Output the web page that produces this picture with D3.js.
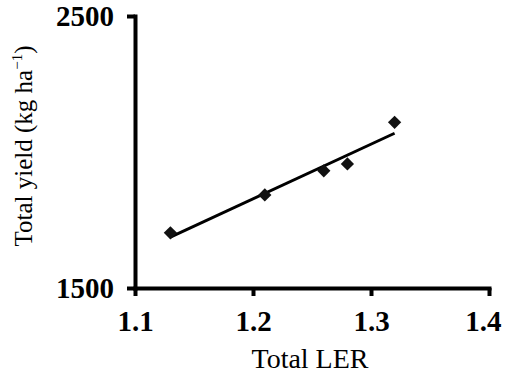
<!DOCTYPE html>
<html>
<head>
<meta charset="utf-8">
<script src="https://cdn.jsdelivr.net/npm/d3@7"></script>
<style>
  html, body { margin: 0; padding: 0; background: #fff; }
  svg { display: block; }
</style>
</head>
<body>
<svg id="chart" width="505" height="374"></svg>
<script>
// values
const ler = [1.13, 1.21, 1.26, 1.28, 1.32];
const yieldKg = [1703, 1842, 1931, 1956, 2109];
const xTicks = [1.1, 1.2, 1.3, 1.4];
const yTicks = [1500, 2500];

const W = 505, H = 374;
const svg = d3.select("#chart");
const FONT = "Liberation Serif, Times New Roman, serif";

const x = d3.scaleLinear().domain([1.1, 1.4]).range([135, 489]);
const y = d3.scaleLinear().domain([1500, 2500]).range([288, 16]);

// least squares fit for the trend line
const mx = d3.mean(ler), my = d3.mean(yieldKg);
let sxy = 0, sxx = 0;
ler.forEach((v, i) => { sxy += (v - mx) * (yieldKg[i] - my); sxx += (v - mx) * (v - mx); });
const slope = sxy / sxx, icpt = my - slope * mx;
const fitX = d3.extent(ler);

// axes
const xAxis = svg.append("g")
    .attr("transform", `translate(0,${y(1500)})`)
    .call(d3.axisBottom(x).tickValues(xTicks).tickFormat(d3.format(".1f")).tickSizeInner(8).tickSizeOuter(0).tickPadding(14));

const yAxis = svg.append("g")
    .attr("transform", `translate(${x(1.1)},0)`)
    .call(d3.axisLeft(y).tickValues(yTicks).tickFormat(d3.format("d")).tickSizeInner(8).tickSizeOuter(0).tickPadding(13));

[xAxis, yAxis].forEach(g => {
    g.select(".domain").attr("stroke", "#000").attr("stroke-width", 4).attr("stroke-linecap", "square");
    g.selectAll(".tick line").attr("stroke", "#000").attr("stroke-width", 4);
    g.selectAll(".tick text")
        .attr("fill", "#000")
        .style("font-family", FONT)
        .style("font-weight", "bold")
        .style("font-size", "29px");
});

// keep the last x label inside the picture
xAxis.selectAll(".tick text").each(function () {
    const b = this.getBBox();
    const tx = x(d3.select(this.parentNode).datum());
    const over = tx + b.x + b.width - (W - 4);
    if (over > 0) d3.select(this).attr("x", -over);
});

// trend line
svg.append("line")
    .attr("x1", x(fitX[0])).attr("y1", y(icpt + slope * fitX[0]))
    .attr("x2", x(fitX[1])).attr("y2", y(icpt + slope * fitX[1]))
    .attr("stroke", "#000").attr("stroke-width", 3);

// diamond markers
const diamond = d3.symbol().type(d3.symbolSquare).size(88);
svg.append("g").selectAll("path")
    .data(ler)
    .join("path")
    .attr("d", diamond)
    .attr("transform", (d, i) => `translate(${x(d)},${y(yieldKg[i])}) rotate(45)`)
    .attr("fill", "#111");

// axis titles
svg.append("text")
    .attr("x", (x(1.1) + x(1.4)) / 2 - 2)
    .attr("y", 368)
    .attr("text-anchor", "middle")
    .style("font-family", FONT)
    .style("font-size", "28px")
    .text("Total LER");

const yt = svg.append("text")
    .attr("transform", "translate(32,146) rotate(-90)")
    .attr("text-anchor", "middle")
    .style("font-family", FONT)
    .style("font-size", "25px");
yt.append("tspan").text("Total yield (kg ha");
yt.append("tspan").attr("dy", -10).style("font-size", "15px").text("\u22121");
yt.append("tspan").attr("dy", 10).text(")");
</script>
</body>
</html>
